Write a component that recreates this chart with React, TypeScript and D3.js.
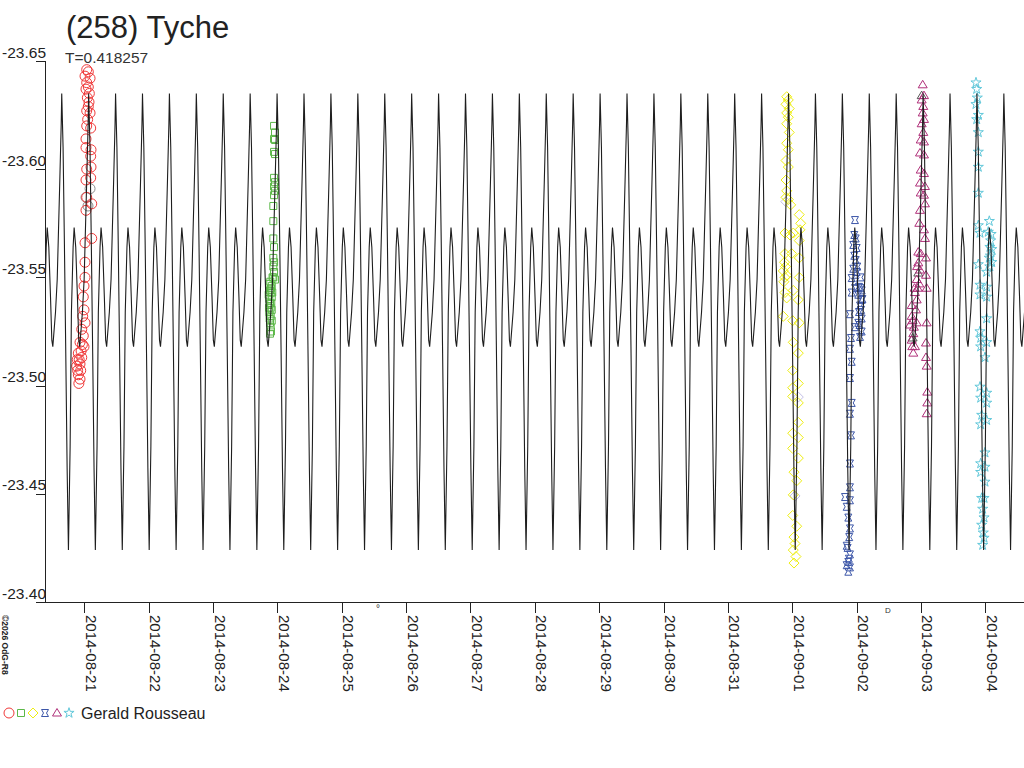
import React, { useEffect, useRef } from "react";
import * as d3 from "d3";

// times are days since 2014-08-21 00:00 UT, values are magnitudes
const BASE = Date.UTC(2014, 7, 21);
const DAY = 86400000;

const PERIOD = 0.418257;
const PEAK_EPOCH = -0.351;
const xDomain = [-0.611, 14.601];
const yTicks = [-23.65, -23.6, -23.55, -23.5, -23.45, -23.4];
const dateTicks = [
  "2014-08-21", "2014-08-22", "2014-08-23", "2014-08-24", "2014-08-25",
  "2014-08-26", "2014-08-27", "2014-08-28", "2014-08-29", "2014-08-30",
  "2014-08-31", "2014-09-01", "2014-09-02", "2014-09-03", "2014-09-04",
];

// one cycle of the fitted lightcurve, phase from the main maximum
const curvePhase = [0, 0.05, 0.1, 0.15, 0.2, 0.249, 0.312, 0.36, 0.423, 0.461, 0.52, 0.583, 0.632, 0.669, 0.769, 0.832, 0.929, 0.981];
const curveMag = [-23.635, -23.61, -23.565, -23.515, -23.462, -23.424, -23.472, -23.534, -23.564, -23.573, -23.564, -23.541, -23.521, -23.518, -23.534, -23.549, -23.595, -23.621];

const redObs: [number, number][] = [
  [0.037, -23.646], [0.062, -23.645], [0.011, -23.643], [0.089, -23.642], [0.037, -23.64], [0.062, -23.638], [0.026, -23.637], [0.078, -23.635], [0.047, -23.633], [0.073, -23.631],
  [0.062, -23.629], [0.037, -23.627], [0.089, -23.626], [0.052, -23.623], [0.037, -23.62], [0.099, -23.619],
  [0.026, -23.614], [0.104, -23.609], [0.026, -23.61], [0.099, -23.606], [0.037, -23.6], [0.104, -23.601], [0.026, -23.595], [0.099, -23.596],
  [0.037, -23.587], [0.115, -23.584], [0.026, -23.581], [0.115, -23.568], [0.011, -23.566], [0.011, -23.557],
  [0.011, -23.55], [-0.005, -23.546], [-0.016, -23.541], [-0.005, -23.535], [-0.025, -23.532], [0.011, -23.529],
  [-0.04, -23.526], [-0.016, -23.523], [-0.067, -23.52], [-0.005, -23.518], [-0.03, -23.519],
  [-0.093, -23.515], [-0.04, -23.513], [-0.067, -23.51], [-0.118, -23.509], [-0.056, -23.507], [-0.093, -23.505], [-0.067, -23.503],
  [-0.08, -23.512], [-0.104, -23.507], [-0.05, -23.516], [-0.11, -23.512], [-0.085, -23.501],
];
const grayObs: [number, number][] = [[0.026, -23.587], [0.057, -23.583], [0.089, -23.591]];

const greenObs: [number, number][] = [
  [2.948, -23.62], [2.963, -23.617], [2.948, -23.614], [2.963, -23.6135], [2.948, -23.608], [2.963, -23.607], [2.948, -23.596], [2.963, -23.594],
  [2.948, -23.592], [2.963, -23.59], [2.948, -23.588], [2.937, -23.583], [2.937, -23.576], [2.937, -23.568], [2.948, -23.564], [2.937, -23.559],
  [2.948, -23.557], [2.937, -23.555], [2.948, -23.5525], [2.937, -23.55], [2.963, -23.549], [2.875, -23.547], [2.912, -23.546], [2.885, -23.544],
  [2.896, -23.543], [2.912, -23.541], [2.875, -23.54], [2.885, -23.538], [2.896, -23.536], [2.912, -23.535], [2.875, -23.534], [2.896, -23.532],
  [2.912, -23.53], [2.885, -23.529], [2.896, -23.527], [2.87, -23.536], [2.905, -23.538], [2.88, -23.531], [2.9, -23.545], [2.89, -23.548],
  [2.92, -23.543], [2.865, -23.542], [2.925, -23.55], [2.885, -23.524], [2.9, -23.525],
];

const yellowObs: [number, number][] = [
  [10.914, -23.6335], [10.939, -23.632], [10.903, -23.63], [10.954, -23.628], [10.914, -23.626], [10.939, -23.624], [10.914, -23.621], [10.954, -23.617],
  [10.914, -23.612], [10.939, -23.609], [10.903, -23.604], [10.939, -23.601], [10.903, -23.595], [10.914, -23.59], [10.903, -23.587], [10.939, -23.586],
  [10.976, -23.5835], [11.109, -23.579], [11.131, -23.575], [11.12, -23.572], [10.887, -23.5705], [10.965, -23.5696], [11.016, -23.5705], [11.109, -23.567],
  [10.887, -23.561], [10.991, -23.561], [11.109, -23.559], [10.861, -23.553], [10.914, -23.551], [10.887, -23.55], [11.109, -23.55], [11.016, -23.544],
  [10.887, -23.543], [10.914, -23.5405], [11.094, -23.5396], [10.861, -23.532], [11.007, -23.53], [11.109, -23.529], [11.016, -23.52], [11.094, -23.515],
  [11.007, -23.507], [11.094, -23.501], [11.007, -23.499], [11.094, -23.492], [11.007, -23.495], [11.094, -23.483], [11.007, -23.478], [11.094, -23.476],
  [11.007, -23.471], [11.094, -23.4665], [11.027, -23.46], [11.069, -23.456], [11.016, -23.4495], [11.007, -23.44], [11.069, -23.435], [11.027, -23.43],
  [11.043, -23.427], [11.016, -23.424], [11.058, -23.421], [11.027, -23.418], [10.88, -23.557], [10.895, -23.555], [10.87, -23.548],
];
const lavenderObs: [number, number][] = [[10.9, -23.585], [11.094, -23.4947], [11.043, -23.449]];

const blueObs: [number, number][] = [
  [11.975, -23.5765], [11.964, -23.5696], [11.986, -23.568], [11.948, -23.565], [12.001, -23.5636], [11.964, -23.56], [11.986, -23.558], [11.948, -23.554],
  [12.001, -23.5525], [11.924, -23.5497], [11.975, -23.548], [12.037, -23.5456], [12.079, -23.544], [11.924, -23.543], [12.026, -23.542], [12.079, -23.5396],
  [12.053, -23.537], [12.037, -23.534], [11.897, -23.533], [12.079, -23.531], [12.026, -23.529], [11.975, -23.527], [12.079, -23.525], [11.913, -23.522],
  [12.053, -23.5225], [11.897, -23.517], [11.924, -23.511], [11.897, -23.5035], [11.924, -23.492], [11.897, -23.487], [11.913, -23.477], [11.897, -23.464],
  [11.897, -23.453], [11.82, -23.4485], [11.897, -23.447], [11.846, -23.444], [11.871, -23.439], [11.897, -23.434], [11.846, -23.426], [11.897, -23.422],
  [11.871, -23.4185], [11.846, -23.417], [11.897, -23.416], [11.871, -23.414], [12.06, -23.55], [12.07, -23.535], [12.045, -23.528], [12.09, -23.54],
  [12.01, -23.555], [11.99, -23.545], [12.065, -23.545], [11.88, -23.42], [11.86, -23.425], [11.885, -23.43],
];

const magentaObs: [number, number][] = [
  [13.027, -23.639], [13.047, -23.634], [13.011, -23.632], [13.036, -23.629], [13.027, -23.626], [13.047, -23.623], [13.011, -23.621], [13.036, -23.617],
  [12.996, -23.6135], [13.047, -23.6126], [12.985, -23.6075], [13.047, -23.6066], [12.996, -23.5996], [13.047, -23.598], [12.985, -23.5936], [13.062, -23.592],
  [12.996, -23.589], [13.047, -23.588], [13.062, -23.584], [12.985, -23.581], [12.974, -23.575], [13.047, -23.572], [13.062, -23.568], [12.958, -23.5617],
  [12.996, -23.561], [13.078, -23.559], [12.958, -23.5567], [12.985, -23.5534], [13.078, -23.551], [12.934, -23.549], [12.974, -23.547], [13.089, -23.545],
  [12.907, -23.543], [12.934, -23.5396], [12.856, -23.537], [12.923, -23.535], [12.856, -23.532], [12.934, -23.529], [12.829, -23.528], [13.089, -23.529],
  [12.881, -23.524], [12.856, -23.521], [12.907, -23.518], [13.078, -23.5197], [12.881, -23.515], [13.078, -23.513], [13.089, -23.509], [13.098, -23.497],
  [13.098, -23.492], [13.089, -23.487], [12.9, -23.545], [12.87, -23.53], [12.94, -23.555], [12.95, -23.545], [12.89, -23.527], [12.865, -23.518],
];
const darkObs: [number, number][] = [[13.011, -23.634], [12.958, -23.552], [12.87, -23.522]];

const cyanObs: [number, number][] = [
  [13.855, -23.64], [13.866, -23.637], [13.875, -23.633], [13.855, -23.63], [13.891, -23.625], [13.866, -23.623], [13.891, -23.617], [13.891, -23.608],
  [13.891, -23.601], [13.891, -23.589], [14.062, -23.576], [13.891, -23.574], [13.917, -23.5705], [14.046, -23.571], [14.083, -23.567], [14.072, -23.564],
  [14.099, -23.563], [14.062, -23.559], [14.099, -23.557], [14.021, -23.5525], [13.891, -23.556], [13.917, -23.5465], [14.021, -23.5456], [13.917, -23.542],
  [14.021, -23.541], [14.021, -23.531], [13.917, -23.525], [13.928, -23.522], [14.021, -23.52], [13.928, -23.518], [13.995, -23.513], [13.917, -23.4994],
  [14.021, -23.4966], [13.928, -23.4943], [14.021, -23.492], [13.944, -23.4864], [14.021, -23.484], [13.928, -23.482], [13.995, -23.469], [13.928, -23.464],
  [13.995, -23.4624], [13.928, -23.46], [13.995, -23.4555], [13.944, -23.448], [13.98, -23.448], [13.959, -23.443], [13.98, -23.439], [13.944, -23.4356],
  [13.968, -23.432], [13.98, -23.4296], [13.959, -23.4263], [14.08, -23.56], [14.09, -23.57], [14.07, -23.555],
];

const legendShapes = ["circle", "square", "diamond", "bowtie", "triangle", "star"];
const legendColors = ["#f03838", "#5cb848", "#eeee10", "#3c56a8", "#b0307a", "#62c8da"];
const observer = "Gerald Rousseau";

const FONT = "'Liberation Sans', Arial, sans-serif";

function shapePath(kind: string): string {
  switch (kind) {
    case "circle":
      return d3.symbol().type(d3.symbolCircle).size(Math.PI * 25)() as string;
    case "square":
      return "M-3.5,-3.5H3.5V3.5H-3.5Z";
    case "diamond":
      return "M0,-5L5,0L0,5L-5,0Z";
    case "bowtie":
      return "M-3.5,-3.5L3.5,-3.5L1.5,0L3.5,3.5L-3.5,3.5L-1.5,0Z";
    case "triangle":
      return "M0,-4.5L4.5,3L-4.5,3Z";
    default:
      return d3.symbol().type(d3.symbolStar).size(32)() as string;
  }
}

const App: React.FC = () => {
  const svgRef = useRef<SVGSVGElement | null>(null);

  useEffect(() => {
    const width = 1024;
    const height = 768;
    const toDate = (t: number) => new Date(BASE + t * DAY);

    const x = d3
      .scaleUtc()
      .domain([toDate(xDomain[0]), toDate(xDomain[1])])
      .range([45, 1024]);
    const y = d3.scaleLinear().domain([-23.65, -23.4]).range([61, 602]);

    const svg = d3
      .select(svgRef.current)
      .attr("width", width)
      .attr("height", height)
      .attr("viewBox", `0 0 ${width} ${height}`)
      .style("font-family", FONT);

    svg.selectAll("*").remove();
    svg.append("rect").attr("width", width).attr("height", height).attr("fill", "#fff");

    svg
      .append("clipPath")
      .attr("id", "plot-clip")
      .append("rect")
      .attr("x", 46)
      .attr("y", 0)
      .attr("width", width - 46)
      .attr("height", 602);

    const sessions = [
      { data: grayObs, shape: "circle", color: "#8c8c8c" },
      { data: redObs, shape: "circle", color: legendColors[0] },
      { data: greenObs, shape: "square", color: legendColors[1] },
      { data: lavenderObs, shape: "diamond", color: "#c4c0e6" },
      { data: yellowObs, shape: "diamond", color: legendColors[2] },
      { data: blueObs, shape: "bowtie", color: legendColors[3] },
      { data: darkObs, shape: "triangle", color: "#555" },
      { data: magentaObs, shape: "triangle", color: legendColors[4] },
      { data: cyanObs, shape: "star", color: legendColors[5] },
    ];

    const marks = svg.append("g").attr("clip-path", "url(#plot-clip)");
    sessions.forEach((s) => {
      marks
        .append("g")
        .selectAll("path")
        .data(s.data)
        .join("path")
        .attr("transform", (d) => `translate(${x(toDate(d[0]))},${y(d[1])})`)
        .attr("d", shapePath(s.shape))
        .attr("fill", "none")
        .attr("stroke", s.color)
        .attr("stroke-width", 1);
    });

    // fitted curve, one keyframe cycle repeated with the period
    const curve: [number, number][] = [];
    for (let k = -3; k <= 37; k++) {
      curvePhase.forEach((p, i) => curve.push([PEAK_EPOCH + (k + p) * PERIOD, curveMag[i]]));
    }
    const line = d3
      .line<[number, number]>()
      .x((d) => x(toDate(d[0])))
      .y((d) => y(d[1]));
    marks
      .append("path")
      .datum(curve)
      .attr("fill", "none")
      .attr("stroke", "#1e1e1e")
      .attr("stroke-width", 1.1)
      .attr("d", line);

    // y axis, plain hyphen for the sign
    const magFormat = (d: d3.NumberValue) => (+d).toFixed(2);
    svg
      .append("g")
      .attr("transform", "translate(45,0)")
      .call(d3.axisLeft(y).tickValues(yTicks).tickSize(9).tickFormat(magFormat))
      .call((g) => g.select(".domain").remove())
      .call((g) => g.selectAll(".tick line").attr("stroke", "#222").attr("shape-rendering", "crispEdges"))
      .call((g) =>
        g
          .selectAll(".tick text")
          .attr("x", 1)
          .attr("dy", -4)
          .attr("fill", "#222")
          .style("font-size", "15.5px")
          .style("font-family", FONT)
      );

    svg
      .append("line")
      .attr("x1", 45)
      .attr("x2", 45)
      .attr("y1", y(-23.65))
      .attr("y2", y(-23.4))
      .attr("stroke", "#222")
      .attr("shape-rendering", "crispEdges");

    // x axis
    svg
      .append("g")
      .attr("transform", `translate(0,${y(-23.4)})`)
      .call(
        d3
          .axisBottom(x)
          .tickValues(dateTicks.map((s) => new Date(s + "T00:00:00Z")))
          .tickSize(11)
          .tickFormat((d) => d3.utcFormat("%Y-%m-%d")(d as Date))
      )
      .call((g) => g.select(".domain").remove())
      .call((g) => g.selectAll(".tick line").attr("stroke", "#222").attr("shape-rendering", "crispEdges"))
      .call((g) =>
        g
          .selectAll(".tick text")
          .attr("x", 0)
          .attr("y", 0)
          .attr("dy", 0)
          .attr("transform", "translate(1,13) rotate(90)")
          .attr("text-anchor", "start")
          .attr("fill", "#222")
          .style("font-size", "15px")
          .style("font-family", FONT)
      );

    svg
      .append("line")
      .attr("x1", 36)
      .attr("x2", width)
      .attr("y1", y(-23.4))
      .attr("y2", y(-23.4))
      .attr("stroke", "#222")
      .attr("shape-rendering", "crispEdges");

    // little markers under the axis
    svg
      .append("text")
      .attr("x", x(toDate(4.563)))
      .attr("y", y(-23.4) + 10)
      .attr("text-anchor", "middle")
      .style("font-size", "10px")
      .attr("fill", "#333")
      .text("°");
    svg
      .append("text")
      .attr("x", x(toDate(12.487)))
      .attr("y", y(-23.4) + 11)
      .attr("text-anchor", "middle")
      .style("font-size", "8px")
      .attr("fill", "#333")
      .text("D");

    // titles
    svg
      .append("text")
      .attr("x", 66)
      .attr("y", 38)
      .attr("fill", "#222")
      .style("font-size", "31px")
      .text("(258) Tyche");
    svg
      .append("text")
      .attr("x", 65)
      .attr("y", 63)
      .attr("fill", "#333")
      .style("font-size", "15.5px")
      .text(`T=${PERIOD}`);

    svg
      .append("text")
      .attr("transform", "translate(2,615) rotate(90)")
      .attr("fill", "#222")
      .style("font-size", "8.5px")
      .style("font-weight", "bold")
      .text("©2026 OdG-R8");

    // legend
    const legend = svg.append("g").attr("transform", "translate(9,713)");
    legend
      .selectAll("path")
      .data(legendShapes)
      .join("path")
      .attr("transform", (_d, i) => `translate(${i * 12},0)`)
      .attr("d", (d) => shapePath(d))
      .attr("fill", "none")
      .attr("stroke", (_d, i) => legendColors[i]);
    legend
      .append("text")
      .attr("x", 72)
      .attr("y", 6)
      .attr("fill", "#222")
      .style("font-size", "16px")
      .text(observer);
  }, []);

  return (
    <div style={{ position: "absolute", left: 0, top: 0, width: 1024, height: 768 }}>
      <svg ref={svgRef} style={{ display: "block" }} />
    </div>
  );
};

export default App;
